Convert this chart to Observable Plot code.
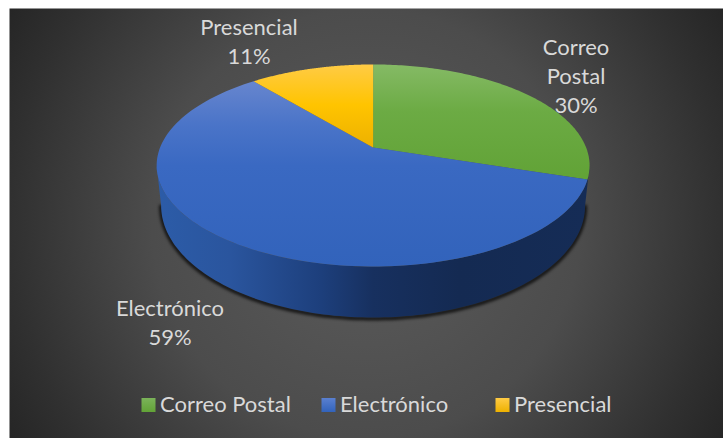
<!DOCTYPE html>
<html>
<head>
<meta charset="utf-8">
<style>html,body{margin:0;padding:0;background:#fff;} svg{display:block;}</style>
<script src="https://cdn.jsdelivr.net/npm/d3@7"></script>
<script src="https://cdn.jsdelivr.net/npm/@observablehq/plot@0.6"></script>
</head>
<body>
<div id="chart"></div>
<script>
// Data
const categories = ["Correo Postal", "Electrónico", "Presencial"];
const shares = [30, 59, 11];
const wrappedNames = ["Correo\nPostal", "Electrónico", "Presencial"];

// Styling / layout
const sliceFills = ["url(#gGreen)", "url(#gBlue)", "url(#gYellow)"];
const swatchFills = ["url(#sGreen)", "url(#sBlue)", "url(#sYellow)"];
const labelPos = [[575.5, 74.5], [169.5, 320.5], [248.5, 40]];
const legendSwatchX = [148, 328, 502];
const legendTextX = [159.5, 339.5, 513.5];
const legendY = 404.5;
const FONT = "Lato";

// Perspective projection of the unit pie disc
const apex = {x: 372.6, y: 147}, k = -0.178, a = 97.8, b = 213;
const project = (t) => {
  const u = Math.sin(t), v = -Math.cos(t), w = 1 + k * v;
  return {x: apex.x + b * u / w, y: apex.y + a * v / w};
};
const sweep = (t0, t1, n = 120) => d3.range(n + 1).map(i => project(t0 + (t1 - t0) * i / n));

const total = d3.sum(shares);
let acc = 0;
const slicePts = categories.flatMap((category, i) => {
  const t0 = acc / total * 2 * Math.PI;
  acc += shares[i];
  const t1 = acc / total * 2 * Math.PI;
  return [{...apex, category}, ...sweep(t0, t1).map(p => ({...p, category}))];
});

// Side wall (front rim of the disc down to the base rim)
const base = {x: 372.6, y: 205, rx: 212, ry: 112};
const tR = Math.acos(k), tL = 2 * Math.PI - tR;
const baseArc = d3.range(121).map(i => {
  const t = Math.PI * i / 120;
  return {x: base.x - base.rx * Math.cos(t), y: base.y + base.ry * Math.sin(t)};
});
const wallPts = [...sweep(tR, tL), ...baseArc];
const shadowPts = baseArc.map(p => ({x: p.x, y: p.y + 1}));

const labels = categories.map((c, i) => ({
  text: `${wrappedNames[i]}\n${shares[i]}%`, x: labelPos[i][0], y: labelPos[i][1]
}));
const legend = categories.map((category, i) => ({
  category, fill: swatchFills[i], sx: legendSwatchX[i], tx: legendTextX[i], y: legendY
}));

const grad = (id, attrs, stops) => `<${attrs.tag} id="${id}" gradientUnits="${attrs.units || "userSpaceOnUse"}" ${attrs.a}>` +
  stops.map(([o, c]) => `<stop offset="${o}" stop-color="${c}"/>`).join("") + `</${attrs.tag}>`;
const vert = {tag: "linearGradient", a: 'x1="0" x2="0" y1="64" y2="266"'};
const box = {tag: "linearGradient", units: "objectBoundingBox", a: 'x1="0" x2="0" y1="0" y2="1"'};
const defs = () => {
  const g = d3.create("svg:defs");
  g.html(
    grad("bg", {tag: "radialGradient", a: 'cx="366" cy="223" r="420"'},
      [[0, "#5c5c5c"], [0.51, "#4c4c4c"], [0.85, "#303030"], [1, "#252525"]]) +
    grad("gGreen", vert, [[0, "#85ba65"], [0.23, "#6cab44"], [0.55, "#62a337"], [1, "#62a337"]]) +
    grad("gBlue", vert, [[0, "#7090d4"], [0.09, "#6685ce"], [0.3, "#4a74c8"], [0.5, "#3a69c2"], [1, "#3263bb"]]) +
    grad("gYellow", vert, [[0, "#ffcb45"], [0.2, "#ffc400"], [0.41, "#edb100"], [1, "#edb100"]]) +
    grad("wall", {tag: "linearGradient", a: 'x1="156" x2="589" y1="0" y2="0"'},
      [[0, "#2c5ca8"], [0.17, "#2a559e"], [0.38, "#1d3f7c"], [0.5, "#17305f"], [0.7, "#142a52"], [1, "#152c56"]]) +
    grad("sGreen", box, [[0, "#7bb35a"], [1, "#62a337"]]) +
    grad("sBlue", box, [[0, "#5a80d0"], [1, "#3263bb"]]) +
    grad("sYellow", box, [[0, "#ffcb45"], [1, "#edb100"]])
  );
  return g.node();
};

const chart = Plot.plot({
  width: 723, height: 438,
  marginLeft: 9, marginTop: 8, marginRight: 0, marginBottom: 0,
  style: {background: "#fff"},
  x: {domain: [9, 723], range: [9, 723], axis: null},
  y: {domain: [8, 438], range: [8, 438], axis: null},
  color: {type: "ordinal", domain: categories, range: sliceFills},
  marks: [
    defs,
    Plot.frame({fill: "url(#bg)", stroke: "none"}),
    Plot.line(shadowPts, {x: "x", y: "y", stroke: "#000", strokeWidth: 4, strokeOpacity: 0.75, imageFilter: "blur(1.5px)"}),
    Plot.line(wallPts, {x: "x", y: "y", fill: "url(#wall)", stroke: "none", curve: "linear-closed"}),
    Plot.line(slicePts, {x: "x", y: "y", z: "category", fill: "category", stroke: "none", curve: "linear-closed"}),
    Plot.text(labels, {x: "x", y: "y", text: "text", fill: "#d9d9d9", fontSize: 22, lineHeight: 1.32, fontFamily: FONT, textAnchor: "middle"}),
    Plot.dot(legend, {x: "sx", y: legendY, symbol: "square", r: 7.9, stroke: "none", fill: {value: "fill", scale: null}}),
    Plot.text(legend, {x: "tx", y: "y", text: "category", fill: "#d9d9d9", fontSize: 22, fontFamily: FONT, textAnchor: "start"})
  ]
});
document.getElementById("chart").append(chart);
</script>
</body>
</html>
